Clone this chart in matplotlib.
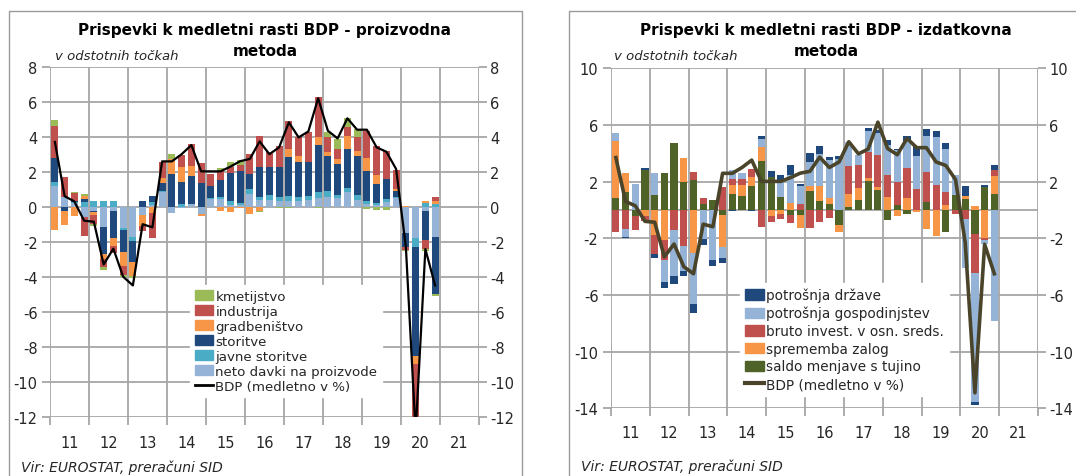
import matplotlib
matplotlib.use('Agg')
import matplotlib.pyplot as plt
import numpy as np
from matplotlib.patches import Rectangle, Patch
from matplotlib.lines import Line2D

plt.rcParams['font.family'] = ['DejaVu Sans']
plt.rcParams['axes.unicode_minus'] = False

W, H = 1076, 477

years = ['11', '12', '13', '14', '15', '16', '17', '18', '19', '20', '21']

# GDP y/y growth, 2011Q1 .. 2020Q4
bdp = [3.7, 0.6, 0.3, -0.8, -0.86, -3.3, -2.4, -4.0, -4.5, -1.0, -1.18, 2.59,
       2.59, 3.0, 3.52, 2.02, 2.02, 2.02, 2.29, 2.6, 2.73, 3.73, 3.0, 3.39,
       4.82, 3.96, 4.3, 6.2, 4.34, 3.9, 5.05, 4.4, 4.4, 3.39, 3.14, 2.15,
       -2.3, -12.9, -2.42, -4.5]

# ---- production approach (left) ----
neto_davki = [1.16, 0.53, 0.2, -0.6, -0.23, -1.14, -0.27, -1.22, -1.71, -0.48, 0.1, 0.82,
              -0.38, -0.1, 0.15, -0.42, 0.44, 0.45, 0.1, 0.1, 0.72, 0.38, 0.36, 0.3,
              0.34, 0.34, 0.4, 0.5, 0.53, 0.5, 0.82, 0.38, 0.15, 0.1, 0.25, 0.48,
              -1.52, -1.79, -0.27, -1.71]
javne_storitve = [0.23, 0.0, 0.05, 0.27, 0.3, 0.3, 0.3, -0.11, -0.23, 0.0, 0.15, 0.05,
                  0.0, 0.15, 0.0, 0.0, 0.05, 0.1, 0.2, 0.1, 0.28, 0.19, 0.3, 0.27,
                  0.29, 0.19, 0.23, 0.32, 0.34, 0.19, 0.23, 0.3, 0.2, 0.1, 0.19, 0.05,
                  0.0, -0.53, 0.2, 0.15]
storitve = [1.39, -0.23, 0.1, 0.15, -0.1, -1.56, -1.5, -1.28, -1.2, 0.3, 0.35, 0.48,
            1.85, 1.24, 1.58, 1.33, 0.67, 0.95, 1.6, 1.85, 0.88, 1.71, 1.6, 1.71,
            2.19, 2.04, 1.94, 2.7, 2.04, 1.75, 2.25, 2.23, 1.7, 1.09, 1.14, 0.34,
            -0.8, -6.19, -1.66, -3.3]
gradbenistvo = [-1.31, -0.8, -0.55, 0.2, -0.15, -0.29, -0.45, -0.76, -0.8, -0.6, -0.35, 0.29,
                0.9, 0.86, 0.61, -0.13, 0.0, -0.25, -0.3, -0.1, -0.43, -0.23, 0.0, 0.0,
                0.48, 0.34, 0.0, 0.48, 0.19, 0.29, 0.72, 0.29, 0.75, 0.51, 0.0, 0.13,
                0.06, -0.48, 0.1, 0.19]
industrija = [1.85, 1.14, 0.42, -1.05, -0.5, -0.44, -0.45, -0.51, 0.0, -0.3, -1.45, 0.9,
              0.0, 0.7, 1.24, 1.14, 0.72, 0.55, 0.38, 0.35, 1.15, 1.77, 0.84, 1.16,
              1.58, 1.09, 1.71, 2.29, 0.9, 0.57, 0.51, 0.76, 1.55, 1.68, 1.62, 1.1,
              -0.15, -3.5, -0.48, 0.19]
kmetijstvo = [0.34, 0.0, 0.05, 0.1, -0.1, -0.2, 0.0, -0.15, -0.13, 0.0, 0.0, 0.0,
              0.25, 0.0, 0.0, 0.0, 0.0, 0.15, 0.3, 0.25, 0.0, -0.05, 0.0, -0.08,
              -0.08, 0.0, 0.0, -0.08, 0.29, 0.57, 0.51, 0.48, -0.15, -0.18, -0.19, -0.02,
              -0.08, 0.0, -0.15, -0.08]

# ---- expenditure approach (right) ----
saldo = [0.85, 1.25, -0.45, 2.84, 1.06, 2.62, 4.73, 2.0, 2.13, 0.43, 0.71, -0.33,
         1.1, 1.0, 1.68, 3.43, 2.32, 0.9, -0.35, -0.35, 1.37, 0.61, 0.43, -1.06,
         0.19, 0.71, 2.08, 1.44, -0.69, 0.35, -0.3, 0.0, 0.54, 0.0, -1.54, 1.06,
         0.78, -1.7, 1.6, 1.1]
zaloge = [4.0, 1.37, 0.0, -0.45, -1.77, -2.13, 0.0, 1.65, -3.0, 0.0, 0.0, -2.27,
          0.65, 0.75, 0.64, 1.02, -0.4, -0.25, 0.5, -0.95, 0.3, 1.11, 0.4, -0.52,
          0.95, 0.85, 0.2, 0.17, 0.9, -0.45, 0.85, -0.15, -1.35, -1.82, 0.35, 0.0,
          0.24, 0.25, -2.0, 1.3]
investicije = [-1.58, -1.35, -0.95, -0.3, -1.35, -1.4, -1.4, -2.53, 0.54, 0.43, 0.0, 1.65,
               0.45, 0.45, 0.54, -1.23, -0.45, -0.4, -0.55, 0.43, -1.3, -0.87, -0.57, 0.0,
               1.94, 1.65, 1.78, 2.25, 1.6, 1.65, 2.13, 1.5, 2.13, 1.77, 0.95, -0.28,
               -0.64, -2.77, -0.12, 0.4]
gospodinjstva = [0.59, -0.52, 1.84, 0.0, 1.56, -1.56, -3.26, -1.77, -3.66, -2.05, -3.55, -0.76,
                 0.6, 0.4, 0.0, 0.59, 0.0, 1.18, 1.94, 1.23, 1.75, 2.25, 2.67, 3.6,
                 1.73, 0.64, 1.5, 1.54, 2.08, 2.2, 1.89, 2.32, 2.55, 3.38, 3.03, 1.42,
                 -3.43, -9.05, -0.3, -7.85]
drzava = [0.0, -0.1, 0.0, 0.1, -0.28, -0.4, -0.59, -0.35, -0.59, -0.42, -0.4, -0.35,
          -0.1, 0.0, -0.1, 0.17, 0.4, 0.4, 0.71, 0.19, 0.59, 0.52, 0.24, 0.24,
          0.0, 0.0, 0.2, 0.24, 0.38, 0.12, 0.35, 0.71, 0.47, 0.4, 0.4, 0.0,
          0.66, -0.24, 0.15, 0.4]

GRID = '#a6a6a6'
TXT = '#262626'


def px_rect(x0, y0, x1, y1):
    return [x0 / W, 1 - y1 / H, (x1 - x0) / W, (y1 - y0) / H]


def stacked(ax, series, colors):
    n = len(series[0])
    x = np.arange(n) + 0.5
    pos = np.zeros(n)
    neg = np.zeros(n)
    for vals, c in zip(series, colors):
        v = np.asarray(vals, dtype=float)
        bottom = np.where(v >= 0, pos, neg)
        ax.bar(x, v, 0.74, bottom=bottom, color=c, linewidth=0, zorder=3)
        pos += np.clip(v, 0, None)
        neg += np.clip(v, None, 0)
    return x


def setup(ax, ylim, yticks, xpad):
    ax.set_xlim(0, 44)
    ax.set_ylim(*ylim)
    ax.set_yticks(yticks)
    ax.set_xticks(np.arange(2, 44, 4))
    ax.set_xticklabels(years)
    ax.set_xticks(np.arange(0, 45, 4), minor=True)
    ax.grid(True, which='minor', axis='x', color=GRID, lw=1.3, zorder=0)
    ax.grid(True, which='major', axis='y', color=GRID, lw=1.3, zorder=0)
    ax.tick_params(axis='x', which='major', length=0, labelsize=10.5, pad=xpad, colors=TXT)
    ax.tick_params(axis='x', which='minor', length=6, color=GRID, width=1.3)
    ax.tick_params(axis='y', which='major', length=6, color=GRID, width=1.3,
                   labelsize=10.5, labelcolor=TXT, pad=3, left=True, right=True,
                   labelleft=True, labelright=False)
    for s in ax.spines.values():
        s.set_visible(False)
    ax.set_axisbelow(True)
    tw = ax.twinx()
    tw.set_ylim(*ylim)
    tw.set_yticks(yticks)
    tw.tick_params(axis='y', length=6, color=GRID, width=1.3, labelsize=10.5,
                   labelcolor=TXT, pad=2)
    for s in tw.spines.values():
        s.set_visible(False)
    return tw


fig = plt.figure(figsize=(W / 100, H / 100), dpi=100)

# frames
fig.add_artist(Rectangle((8.6 / W, -0.02), (522 - 8.6) / W, 1.02 - 12 / H,
                         transform=fig.transFigure, fill=False, ec='#9a9a9a', lw=1))
fig.add_artist(Rectangle((569 / W, -0.02), 0.5, 1.02 - 12 / H,
                         transform=fig.transFigure, fill=False, ec='#9a9a9a', lw=1))

# ---------- left chart ----------
axL = fig.add_axes(px_rect(50, 67.7, 479, 417.7))
setup(axL, (-12, 8), np.arange(-12, 9, 2), 13)
colsL = ['#95B3D7', '#4BACC6', '#1F497D', '#F79646', '#C0504D', '#9BBB59']
x = stacked(axL, [neto_davki, javne_storitve, storitve, gradbenistvo, industrija, kmetijstvo], colsL)
axL.plot(x, bdp, color='black', lw=1.6, zorder=5)

handlesL = [Patch(color='#9BBB59'), Patch(color='#C0504D'), Patch(color='#F79646'),
            Patch(color='#1F497D'), Patch(color='#4BACC6'), Patch(color='#95B3D7'),
            Line2D([], [], color='black', lw=2)]
labelsL = ['kmetijstvo', 'industrija', 'gradbeništvo', 'storitve', 'javne storitve',
           'neto davki na proizvode', 'BDP (medletno v %)']
legL = axL.legend(handlesL, labelsL, loc='upper left', bbox_to_anchor=(190 / W, 1 - 286 / H),
                  bbox_transform=fig.transFigure, frameon=True, facecolor='white',
                  edgecolor='white', framealpha=1, fancybox=False, fontsize=9.6,
                  handlelength=1.4, handleheight=0.8, handletextpad=0.15,
                  labelspacing=0.15, borderpad=0.35, borderaxespad=0)
legL.set_zorder(10)
for t in legL.get_texts():
    t.set_color(TXT)

fig.text(265 / W, 1 - 30.5 / H, 'Prispevki k medletni rasti BDP - proizvodna',
         ha='center', va='center', fontsize=11, fontweight='bold')
fig.text(265 / W, 1 - 51 / H, 'metoda', ha='center', va='center', fontsize=11, fontweight='bold')
fig.text(55 / W, 1 - 56 / H, 'v odstotnih točkah', ha='left', va='center', fontsize=9.5,
         style='italic', color=TXT)
fig.text(21 / W, 1 - 468 / H, 'Vir: EUROSTAT, preračuni SID', ha='left', va='center',
         fontsize=10, style='italic', color=TXT)

# ---------- right chart ----------
axR = fig.add_axes(px_rect(611, 69.3, 1038, 409.4))
setup(axR, (-14, 10), np.arange(-14, 11, 4), 12)
axR.axhline(0, color=GRID, lw=1.3, zorder=1)
colsR = ['#4F6228', '#F79646', '#C0504D', '#95B3D7', '#1F497D']
x = stacked(axR, [saldo, zaloge, investicije, gospodinjstva, drzava], colsR)
axR.plot(x, bdp, color='#4A452A', lw=2.6, zorder=5)

handlesR = [Patch(color='#1F497D'), Patch(color='#95B3D7'), Patch(color='#C0504D'),
            Patch(color='#F79646'), Patch(color='#4F6228'),
            Line2D([], [], color='#4A452A', lw=3)]
labelsR = ['potrošnja države', 'potrošnja gospodinjstev', 'bruto invest. v osn. sreds.',
           'sprememba zalog', 'saldo menjave s tujino', 'BDP (medletno v %)']
legR = axR.legend(handlesR, labelsR, loc='upper left', bbox_to_anchor=(740 / W, 1 - 284 / H),
                  bbox_transform=fig.transFigure, frameon=True, facecolor='white',
                  edgecolor='white', framealpha=1, fancybox=False, fontsize=9.8,
                  handlelength=1.4, handleheight=0.8, handletextpad=0.15,
                  labelspacing=0.27, borderpad=0.35, borderaxespad=0)
legR.set_zorder(10)
for t in legR.get_texts():
    t.set_color(TXT)

fig.text(826 / W, 1 - 30.5 / H, 'Prispevki k medletni rasti BDP - izdatkovna',
         ha='center', va='center', fontsize=11, fontweight='bold')
fig.text(826 / W, 1 - 51 / H, 'metoda', ha='center', va='center', fontsize=11, fontweight='bold')
fig.text(614 / W, 1 - 56 / H, 'v odstotnih točkah', ha='left', va='center', fontsize=9.5,
         style='italic', color=TXT)
fig.text(581 / W, 1 - 467 / H, 'Vir: EUROSTAT, preračuni SID', ha='left', va='center',
         fontsize=10, style='italic', color=TXT)

fig.savefig('out.png', dpi=100)
